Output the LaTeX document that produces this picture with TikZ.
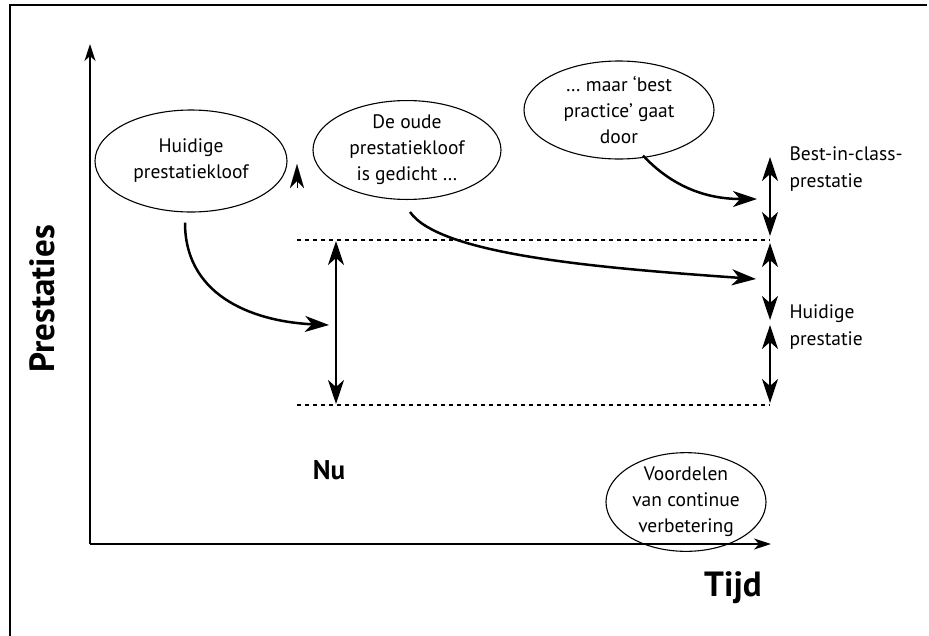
\documentclass[tikz,border=0pt]{standalone}
\usepackage{fontspec}
\setmainfont{PT Sans}
\usetikzlibrary{arrows.meta,shapes.geometric}
\begin{document}
\begin{tikzpicture}[x=1pt,y=-1pt,
  bubble/.style={draw,ellipse,line width=1.1pt,inner sep=0pt,align=center,font=\fontsize{19.5}{26}\selectfont},
  lbl/.style={align=left,anchor=west,font=\fontsize{19.5}{27}\selectfont},
  big/.style={font=\bfseries\fontsize{35}{38}\selectfont},
  tip/.style={-{Stealth[length=24pt,width=16pt,inset=7pt]}},
  dtip/.style={{Stealth[length=24pt,width=16pt,inset=7pt]}-{Stealth[length=24pt,width=16pt,inset=7pt]}},
  atip/.style={-{Stealth[length=17pt,width=11pt,inset=5pt]}},
  arr/.style={line width=2.5pt},
  dashline/.style={line width=1.4pt,dash pattern=on 4pt off 4pt}
]
\useasboundingbox (0,0) rectangle (929,635);
\draw[line width=1.5pt] (10,640) -- (10,5) -- (927,5);
% axes
\coordinate (o) at (90,544);
\coordinate (ytop) at (90,44);
\coordinate (xend) at (771,544);
\draw[line width=1.3pt,atip] (o) -- (ytop);
\draw[line width=1.3pt,atip] (o) -- (xend);
\node[big,rotate=90] (ylab) at (42,299) {Prestaties};
\node[big] (xlab) at (733,588) {Tijd};
\node[font=\bfseries\fontsize{27}{30}\selectfont] (nu) at (329,470) {Nu};
% dashed lines
\coordinate (dtl) at (297,240);
\coordinate (dtr) at (770,240);
\coordinate (dbl) at (297,405);
\coordinate (dbr) at (770,405);
\draw[dashline] (dtl) -- (dtr);
\draw[dashline] (dbl) -- (dbr);
% gap arrow
\coordinate (ga) at (336,241);
\coordinate (gb) at (336,404);
\draw[arr,dtip] (ga) -- (gb);
% right arrows
\coordinate (r1a) at (770,157);
\coordinate (r1b) at (770,236);
\coordinate (r2a) at (770,243);
\coordinate (r2b) at (770,320);
\coordinate (r3a) at (770,325);
\coordinate (r3b) at (770,403);
\draw[arr,dtip] (r1a) -- (r1b);
\draw[arr,dtip] (r2a) -- (r2b);
\draw[arr,dtip] (r3a) -- (r3b);
% bubbles
\node[bubble,minimum width=192pt,minimum height=102pt] (huid) at (191,161) {Huidige\\prestatiekloof};
\node[bubble,minimum width=188pt,minimum height=98pt] (oude) at (407,150) {De oude\\prestatiekloof\\is gedicht \dots};
\node[bubble,minimum width=190pt,minimum height=98pt] (best) at (619,110) {\dots\ maar ‘best\\practice’ gaat\\door};
\node[bubble,minimum width=160pt,minimum height=95pt] (voor) at (686,502) {Voordelen\\van continue\\verbetering};
% labels right
\node[lbl] (bic) at (786,169) {Best-in-class-\\prestatie};
\node[lbl] (hp) at (786,327) {Huidige\\prestatie};
% curved arrows
\coordinate (e1) at (329,325);
\coordinate (e2) at (756,279);
\coordinate (e3) at (757,199);
\draw[arr,tip] (huid.south) ++(-6,10) .. controls (185,300) and (260,322) .. (e1);
\draw[arr,tip] (oude.south) ++(3,12) .. controls (440,255) and (600,268) .. (e2);
\draw[arr,tip] (best.south) ++(24,-4) .. controls (680,195) and (720,199) .. (e3);
% stray arrowhead
\coordinate (sa) at (297,188);
\coordinate (sb) at (297,164);
\draw[line width=0.1pt,-{Stealth[length=24pt,width=14pt,inset=7pt]}] (sa) -- (sb);
\end{tikzpicture}
\end{document}
